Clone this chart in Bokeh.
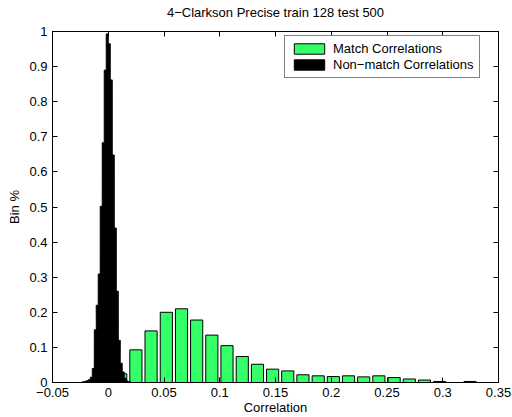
from bokeh.plotting import figure
from bokeh.models import Range1d, FixedTicker, CustomJSTickFormatter, LinearAxis
from bokeh.embed import file_html
from bokeh.resources import INLINE

# Match correlations histogram (bin centres / heights)
match_x = [0.0112, 0.0248, 0.0384, 0.0521, 0.0657, 0.0793, 0.0929, 0.1065, 0.1202,
           0.1338, 0.1474, 0.1610, 0.1746, 0.1883, 0.2019, 0.2155, 0.2291, 0.2427,
           0.2564, 0.2700, 0.2836, 0.2972, 0.3108, 0.3245]
match_y = [0.025, 0.093, 0.147, 0.200, 0.210, 0.178, 0.135, 0.105, 0.074,
           0.052, 0.038, 0.033, 0.022, 0.019, 0.017, 0.019, 0.016, 0.019,
           0.014, 0.010, 0.007, 0.003, 0.0, 0.003]
match_width = 0.0109

# Non-match correlations histogram
nonmatch_x = [-0.0224, -0.0206, -0.0188, -0.0170, -0.0152, -0.0134, -0.0116, -0.0099,
              -0.0081, -0.0063, -0.0045, -0.0027, -0.0009, 0.0009, 0.0027, 0.0045,
              0.0063, 0.0081, 0.0099, 0.0116, 0.0134, 0.0152, 0.0170, 0.0188]
nonmatch_y = [0.002, 0.003, 0.005, 0.008, 0.015, 0.040, 0.150, 0.220,
              0.309, 0.502, 0.683, 0.890, 0.993, 0.965, 0.862, 0.648,
              0.440, 0.260, 0.120, 0.055, 0.030, 0.012, 0.004, 0.002]
nonmatch_width = 0.00179

x_ticks = [-0.05, 0.0, 0.05, 0.1, 0.15, 0.2, 0.25, 0.3, 0.35]
y_ticks = [0.0, 0.1, 0.2, 0.3, 0.4, 0.5, 0.6, 0.7, 0.8, 0.9, 1.0]

title_text = "4\u2212Clarkson Precise train 128 test 500"

FONT = "Liberation Sans"
FS = "13px"

p = figure(width=512, height=417, output_backend="svg", toolbar_location=None,
           x_range=Range1d(-0.05, 0.35), y_range=Range1d(0, 1),
           min_border_left=52, min_border_right=14, min_border_top=31, min_border_bottom=33)

p.vbar(x=match_x, top=match_y, width=match_width, bottom=0,
       fill_color="#33ff66", line_color="black", line_width=1,
       legend_label="Match Correlations")

# step outline of the non-match histogram, built from its bins
step_x = [nonmatch_x[0] - nonmatch_width / 2]
step_y = [0.0]
for c, h in zip(nonmatch_x, nonmatch_y):
    step_x += [c - nonmatch_width / 2, c + nonmatch_width / 2]
    step_y += [h, h]
step_x.append(nonmatch_x[-1] + nonmatch_width / 2)
step_y.append(0.0)
p.patch(step_x, step_y, fill_color="black", line_color="black", line_width=1,
        legend_label="Non\u2212match Correlations")

fmt = CustomJSTickFormatter(code=r"""
let s = tick.toFixed(2);
s = s.replace(/0+$/, '').replace(/\.$/, '');
if (s === '-0') { s = '0'; }
return s.replace('-', '\u2212');
""")

p.xgrid.visible = False
p.ygrid.visible = False
p.outline_line_color = "black"
p.outline_line_alpha = 1.0

for ax, ticks in ((p.xaxis[0], x_ticks), (p.yaxis[0], y_ticks)):
    ax.ticker = FixedTicker(ticks=ticks)
    ax.formatter = fmt
    ax.major_tick_in = 5
    ax.major_tick_out = 0
    ax.minor_tick_line_color = None
    ax.major_label_text_font = FONT
    ax.major_label_text_font_size = FS
    ax.axis_label_text_font = FONT
    ax.axis_label_text_font_size = FS
    ax.axis_label_text_font_style = "normal"
    ax.axis_label_text_color = "black"
    ax.axis_line_color = "black"
    ax.major_tick_line_color = "black"
    ax.major_label_text_color = "black"

p.xaxis[0].axis_label = "Correlation"
p.xaxis[0].major_label_standoff = 5
p.xaxis[0].axis_label_standoff = 0
p.yaxis[0].axis_label = "Bin %"
p.yaxis[0].major_label_standoff = 5
p.yaxis[0].axis_label_standoff = 4

# top axis carries the ticks of the box and the chart title
top_ax = LinearAxis(ticker=FixedTicker(ticks=x_ticks), major_tick_in=5, major_tick_out=0,
                    minor_tick_line_color=None, major_label_text_font_size="0px",
                    major_label_text_color=None,
                    major_label_standoff=0, axis_line_color="black",
                    axis_label=title_text, axis_label_standoff=12,
                    axis_label_text_font=FONT, axis_label_text_font_size=FS,
                    axis_label_text_font_style="normal", axis_label_text_color="black")
right_ax = LinearAxis(ticker=FixedTicker(ticks=y_ticks), major_tick_in=5, major_tick_out=0,
                      minor_tick_line_color=None, major_label_text_font_size="0px",
                      major_label_text_color=None,
                      major_label_standoff=0, axis_line_color="black")
p.add_layout(top_ax, "above")
p.add_layout(right_ax, "right")

lg = p.legend[0]
lg.location = (232, 304)
lg.margin = 0
lg.padding = 5
lg.spacing = 1
lg.glyph_width = 38
lg.glyph_height = 13
lg.label_height = 13
lg.label_standoff = 5
lg.label_text_font = FONT
lg.label_text_font_size = FS
lg.label_text_color = "black"
lg.border_line_color = "black"
lg.border_line_width = 1
lg.background_fill_alpha = 1.0

open("out.html", "w").write(file_html(p, INLINE))
